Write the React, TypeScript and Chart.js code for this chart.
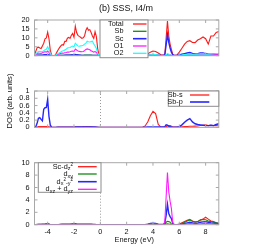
import React, { useEffect, useRef, useState } from "react";
import { Chart, registerables } from "chart.js";
Chart.register(...registerables);

// Energy grid (eV)
const energy = [
  -5.0, -4.9, -4.8, -4.7, -4.6, -4.5, -4.4, -4.3, -4.2, -4.1,
  -4.0, -3.9, -3.8, -3.7, -3.6, -3.5, -3.4, -3.3, -3.2, -3.1,
  -3.0, -2.9, -2.8, -2.7, -2.6, -2.5, -2.4, -2.3, -2.2, -2.1,
  -2.0, -1.9, -1.8, -1.7, -1.6, -1.5, -1.4, -1.3, -1.2, -1.1,
  -1.0, -0.9, -0.8, -0.7, -0.6, -0.5, -0.4, -0.3, -0.2, -0.1,
  0, 1, 2, 3,
  3.2, 3.4, 3.6, 3.8, 4.0, 4.2, 4.4, 4.6, 4.8,
  4.9, 5.0, 5.1, 5.2, 5.3, 5.4, 5.5, 5.6,
  5.8, 6.0, 6.2, 6.4, 6.6, 6.8, 7.0, 7.2, 7.4, 7.6, 7.8, 8.0, 8.2, 8.4, 8.6, 8.8, 9.0,
];

// Panel 1: total and partial DOS
const totalDos = [
  0.5, 2.5, 4.5, 4.8, 4.3, 4.0, 5.5, 7.0, 9.5, 10.0,
  13.2, 9.5, 3.0, 0.4, 0, 0, 0.5, 2.0, 3.3, 4.5,
  5.5, 6.2, 6.0, 8.1, 8.0, 9.8, 10.3, 9.7, 11.5, 12.5,
  10.3, 16.5, 13.0, 11.4, 10.8, 10.3, 9.7, 10.0, 11.0, 14.1,
  15.7, 14.2, 14.6, 13.0, 11.0, 9.7, 13.5, 10.7, 4.0, 0.2,
  0, 0, 0, 0,
  0, 0.3, 1.0, 2.0, 2.6, 2.4, 1.5, 0.5, 0.3,
  0.8, 10, 19.4, 11, 6.5, 3.5, 0.8, 0.2,
  0.2, 2.0, 4.2, 6.5, 8.0, 8.4, 7.4, 7.3, 8.8, 9.5, 10.5, 9.5, 6.5, 11.0, 11.0, 13.0, 13.6,
];
const sbDos = [
  0, 0.1, 0.2, 0.2, 0.2, 0.2, 0.2, 0.3, 0.3, 0.3,
  0.4, 0.3, 0.1, 0, 0, 0, 0, 0.1, 0.1, 0.2,
  0.2, 0.2, 0.2, 0.2, 0.3, 0.3, 0.3, 0.3, 0.3, 0.3,
  0.3, 0.4, 0.3, 0.3, 0.3, 0.2, 0.2, 0.2, 0.3, 0.3,
  0.3, 0.3, 0.3, 0.3, 0.2, 0.2, 0.2, 0.2, 0.1, 0,
  0, 0, 0, 0,
  0, 0.05, 0.1, 0.2, 0.3, 0.3, 0.2, 0.05, 0.05,
  0.1, 0.3, 0.5, 0.3, 0.2, 0.1, 0.05, 0,
  0, 0.05, 0.1, 0.15, 0.2, 0.2, 0.2, 0.2, 0.2, 0.25, 0.25, 0.3, 0.25, 0.25, 0.3, 0.3, 0.3,
];
const scDos = [
  0, 0.1, 0.3, 0.3, 0.3, 0.3, 0.3, 0.4, 0.5, 0.5,
  0.6, 0.4, 0.1, 0, 0, 0, 0, 0.1, 0.1, 0.2,
  0.2, 0.2, 0.2, 0.3, 0.3, 0.3, 0.3, 0.3, 0.4, 0.4,
  0.4, 0.7, 0.5, 0.4, 0.3, 0.3, 0.2, 0.2, 0.2, 0.2,
  0.2, 0.2, 0.2, 0.2, 0.2, 0.2, 0.2, 0.2, 0.1, 0,
  0, 0, 0, 0,
  0, 0.05, 0.15, 0.3, 0.35, 0.3, 0.2, 0.1, 0.1,
  0.5, 6.0, 11.9, 7.5, 4.3, 2.0, 0.5, 0.1,
  0.1, 0.4, 0.8, 1.2, 1.5, 1.8, 1.3, 1.0, 1.1, 1.5, 1.6, 1.2, 0.9, 0.9, 1.0, 1.1, 1.1,
];
const o1Dos = [
  0, 0.5, 1.2, 1.5, 1.4, 1.3, 1.6, 2.0, 2.2, 2.0,
  2.6, 1.8, 0.6, 0.1, 0, 0, 0.1, 0.5, 0.8, 1.1,
  1.3, 1.5, 1.4, 1.6, 1.8, 2.1, 2.0, 2.2, 2.5, 2.6,
  2.4, 3.7, 3.2, 2.6, 2.4, 2.3, 2.2, 2.4, 2.8, 3.5,
  3.8, 3.6, 3.3, 2.8, 2.4, 2.0, 2.3, 1.8, 0.8, 0.1,
  0, 0, 0, 0,
  0, 0.05, 0.2, 0.4, 0.5, 0.5, 0.3, 0.1, 0.05,
  0.1, 0.3, 0.8, 0.5, 0.3, 0.2, 0.1, 0.05,
  0.05, 0.1, 0.2, 0.4, 0.5, 0.5, 0.4, 0.4, 0.45, 0.5, 0.5, 0.45, 0.4, 0.5, 0.5, 0.55, 0.6,
];
const o2Dos = [
  0, 0.8, 1.8, 2.3, 2.5, 2.2, 2.3, 2.8, 3.4, 3.6,
  5.0, 3.5, 1.2, 0.2, 0, 0, 0.2, 0.8, 1.3, 1.7,
  2.1, 2.6, 2.8, 3.2, 3.6, 4.3, 4.5, 4.6, 5.0, 5.4,
  5.0, 7.0, 6.2, 5.4, 5.3, 5.5, 5.6, 5.9, 6.5, 7.0,
  8.1, 7.8, 7.7, 7.9, 8.1, 6.5, 5.4, 4.0, 1.5, 0.1,
  0, 0, 0, 0,
  0, 0.05, 0.2, 0.5, 0.6, 0.6, 0.4, 0.1, 0.05,
  0.1, 0.5, 1.2, 0.8, 0.4, 0.2, 0.1, 0.05,
  0.05, 0.2, 0.4, 0.6, 0.8, 0.9, 0.8, 0.8, 0.9, 1.0, 1.0, 0.9, 0.8, 1.0, 1.1, 1.2, 1.2,
];

// Panel 2: Sb s / p
const sbSDos = [
  0, 0.005, 0.01, 0.02, 0.02, 0.02, 0.02, 0.02, 0.02, 0.02,
  0.02, 0.015, 0.01, 0, 0, 0, 0, 0.005, 0.01, 0.01,
  0.01, 0.01, 0.01, 0.01, 0.01, 0.01, 0.01, 0.01, 0.01, 0.01,
  0.01, 0.015, 0.015, 0.015, 0.015, 0.015, 0.015, 0.02, 0.02, 0.025,
  0.025, 0.02, 0.02, 0.015, 0.015, 0.01, 0.01, 0.01, 0.005, 0,
  0, 0, 0, 0,
  0.005, 0.04, 0.15, 0.32, 0.44, 0.38, 0.08, 0.01, 0.01,
  0.01, 0.02, 0.04, 0.05, 0.05, 0.03, 0.01, 0.01,
  0.01, 0.01, 0.015, 0.02, 0.025, 0.03, 0.03, 0.035, 0.04, 0.05, 0.06, 0.07, 0.05, 0.06, 0.05, 0.05, 0.04,
];
const sbPDos = [
  0, 0.02, 0.12, 0.25, 0.27, 0.22, 0.18, 0.5, 0.54, 0.55,
  0.77, 0.3, 0.06, 0.005, 0, 0, 0, 0.005, 0.005, 0.005,
  0.005, 0.005, 0.005, 0.005, 0.005, 0.005, 0.005, 0.005, 0.005, 0.005,
  0.005, 0.01, 0.01, 0.01, 0.01, 0.01, 0.01, 0.01, 0.01, 0.015,
  0.015, 0.015, 0.01, 0.01, 0.01, 0.01, 0.01, 0.005, 0.005, 0,
  0, 0, 0, 0,
  0, 0.005, 0.01, 0.01, 0.01, 0.01, 0.01, 0.01, 0.01,
  0.02, 0.07, 0.06, 0.03, 0.02, 0.01, 0.005, 0.005,
  0.005, 0.02, 0.07, 0.14, 0.2, 0.24, 0.15, 0.1, 0.08, 0.07, 0.06, 0.05, 0.05, 0.06, 0.05, 0.08, 0.1,
];

// Panel 3: Sc d orbitals
const scDz2 = [
  0, 0.02, 0.05, 0.05, 0.05, 0.05, 0.05, 0.08, 0.1, 0.15,
  0.2, 0.1, 0.03, 0, 0, 0, 0, 0.02, 0.03, 0.05,
  0.05, 0.05, 0.05, 0.05, 0.06, 0.06, 0.07, 0.08, 0.1, 0.12,
  0.2, 0.15, 0.1, 0.08, 0.06, 0.05, 0.05, 0.05, 0.05, 0.05,
  0.05, 0.05, 0.05, 0.05, 0.05, 0.04, 0.04, 0.03, 0.02, 0,
  0, 0, 0, 0,
  0, 0, 0.02, 0.04, 0.05, 0.04, 0.02, 0.01, 0.01,
  0.02, 0.1, 0.15, 0.1, 0.05, 0.03, 0.01, 0,
  0, 0.1, 0.3, 0.5, 0.7, 0.85, 0.6, 0.4, 0.5, 0.7, 0.9, 1.2, 0.9, 0.6, 0.5, 0.3, 0.2,
];
const scDxy = [
  0, 0.02, 0.04, 0.04, 0.04, 0.04, 0.05, 0.06, 0.08, 0.1,
  0.12, 0.08, 0.02, 0, 0, 0, 0, 0.02, 0.03, 0.04,
  0.04, 0.05, 0.05, 0.05, 0.05, 0.06, 0.06, 0.07, 0.08, 0.1,
  0.12, 0.12, 0.08, 0.06, 0.05, 0.05, 0.05, 0.05, 0.05, 0.05,
  0.05, 0.05, 0.05, 0.05, 0.04, 0.04, 0.03, 0.03, 0.02, 0,
  0, 0, 0, 0,
  0, 0, 0.01, 0.02, 0.03, 0.02, 0.01, 0.01, 0.01,
  0.05, 0.4, 0.55, 0.5, 0.4, 0.1, 0.02, 0,
  0, 0.05, 0.2, 0.4, 0.6, 0.75, 0.55, 0.45, 0.5, 0.8, 0.85, 0.8, 0.6, 0.5, 0.4, 0.3, 0.2,
];
const scDx2y2 = [
  0, 0.01, 0.02, 0.03, 0.03, 0.03, 0.03, 0.04, 0.05, 0.06,
  0.08, 0.05, 0.01, 0, 0, 0, 0, 0.01, 0.02, 0.02,
  0.03, 0.03, 0.03, 0.03, 0.04, 0.04, 0.04, 0.05, 0.06, 0.07,
  0.08, 0.1, 0.06, 0.05, 0.04, 0.04, 0.04, 0.04, 0.04, 0.04,
  0.04, 0.04, 0.04, 0.04, 0.03, 0.03, 0.03, 0.02, 0.01, 0,
  0, 0, 0, 0,
  0, 0.02, 0.1, 0.2, 0.25, 0.2, 0.1, 0.03, 0.03,
  0.3, 1.5, 3.3, 1.8, 1.3, 1.0, 0.2, 0.02,
  0.01, 0.05, 0.1, 0.2, 0.3, 0.4, 0.3, 0.2, 0.25, 0.4, 0.45, 0.5, 0.4, 0.3, 0.25, 0.2, 0.2,
];
const scDxzDyz = [
  0, 0.01, 0.02, 0.02, 0.02, 0.02, 0.02, 0.03, 0.04, 0.05,
  0.06, 0.04, 0.01, 0, 0, 0, 0, 0.01, 0.01, 0.02,
  0.02, 0.02, 0.02, 0.02, 0.03, 0.03, 0.03, 0.04, 0.05, 0.05,
  0.06, 0.08, 0.05, 0.04, 0.03, 0.03, 0.03, 0.03, 0.03, 0.03,
  0.03, 0.03, 0.03, 0.03, 0.03, 0.02, 0.02, 0.02, 0.01, 0,
  0, 0, 0, 0,
  0, 0.02, 0.05, 0.1, 0.15, 0.12, 0.05, 0.02, 0.02,
  0.5, 4.5, 8.4, 5.3, 3.8, 2.6, 0.4, 0.05,
  0.02, 0.05, 0.08, 0.1, 0.15, 0.2, 0.15, 0.1, 0.12, 0.15, 0.2, 0.25, 0.2, 0.15, 0.12, 0.1, 0.08,
];

const xTicks = [-4, -2, 0, 2, 4, 6, 8];
const yTicks1 = [0, 5, 10, 15, 20];
const yTicks2 = [0, 0.2, 0.4, 0.6, 0.8, 1];
const yTicks3 = [0, 2, 4, 6, 8, 10];

const RED = "#ff1a1a";
const GREEN = "#138a13";
const BLUE = "#2626ff";
const MAGENTA = "#ff1aff";
const CYAN = "#1affff";

const FONT = "'Liberation Sans', Arial, sans-serif";
const TXT = "#111111";
const FRAME = "#a8a8a8";
const W = 267;
const H = 250;
const X_LEFT = 34.5;
const X_RIGHT = 218.8;
const X_AXIS_H = 25.3;

type Seg = { t: string; size?: number; dy?: number };
type Series = { data: number[]; color: string; width: number; label: Seg[] };
type Legend = {
  box: [number, number, number, number];
  textRight: number;
  lineX: [number, number];
  rows: number[];
};
type PanelSpec = {
  canvasTop: number;
  canvasHeight: number;
  top: number;
  bottom: number;
  yTicks: number[];
  series: Series[];
  legend: Legend;
  showX: boolean;
  extra?: (ctx: CanvasRenderingContext2D) => void;
};

function drawRich(ctx: CanvasRenderingContext2D, segs: Seg[], right: number, y: number, base: number) {
  let total = 0;
  const widths: number[] = [];
  for (const s of segs) {
    ctx.font = `${s.size ?? base}px ${FONT}`;
    const w = ctx.measureText(s.t).width;
    widths.push(w);
    total += w;
  }
  let x = right - total;
  ctx.textAlign = "left";
  ctx.textBaseline = "middle";
  segs.forEach((s, i) => {
    ctx.font = `${s.size ?? base}px ${FONT}`;
    ctx.fillText(s.t, x, y + (s.dy ?? 0));
    x += widths[i];
  });
}

const panels: PanelSpec[] = [
  {
    canvasTop: 0,
    canvasHeight: 86,
    top: 20,
    bottom: 81,
    yTicks: yTicks1,
    showX: false,
    series: [
      { data: totalDos, color: RED, width: 1.1, label: [{ t: "Total" }] },
      { data: sbDos, color: GREEN, width: 1.1, label: [{ t: "Sb" }] },
      { data: scDos, color: BLUE, width: 1.4, label: [{ t: "Sc" }] },
      { data: o1Dos, color: MAGENTA, width: 1.1, label: [{ t: "O1" }] },
      { data: o2Dos, color: CYAN, width: 1.1, label: [{ t: "O2" }] },
    ],
    legend: {
      box: [100, 20, 148, 57.7],
      textRight: 123.5,
      lineX: [133, 146.5],
      rows: [24, 31.3, 38.7, 46, 53.3],
    },
    extra: (ctx) => {
      ctx.fillStyle = TXT;
      ctx.font = `9px ${FONT}`;
      ctx.textAlign = "center";
      ctx.textBaseline = "middle";
      ctx.fillText("(b) SSS, I4/m", 126, 9);
    },
  },
  {
    canvasTop: 86,
    canvasHeight: 72,
    top: 91,
    bottom: 152.7,
    yTicks: yTicks2,
    showX: false,
    series: [
      { data: sbSDos, color: RED, width: 1.1, label: [{ t: "Sb-s" }] },
      { data: sbPDos, color: BLUE, width: 1.4, label: [{ t: "Sb-p" }] },
    ],
    legend: {
      box: [168.3, 91, X_RIGHT, 106.3],
      textRight: 182.7,
      lineX: [190, 209.3],
      rows: [95, 102],
    },
  },
  {
    canvasTop: 158,
    canvasHeight: 92,
    top: 162.7,
    bottom: 224.7,
    yTicks: yTicks3,
    showX: true,
    series: [
      { data: scDz2, color: RED, width: 1.1, label: [{ t: "Sc-d" }, { t: "z", size: 5.5, dy: 2 }, { t: "2", size: 4.5, dy: -1.5 }] },
      { data: scDxy, color: GREEN, width: 1.1, label: [{ t: "d" }, { t: "xy", size: 5.5, dy: 2 }] },
      {
        data: scDx2y2,
        color: BLUE,
        width: 1.4,
        label: [
          { t: "d" },
          { t: "x", size: 5.5, dy: 2 },
          { t: "2", size: 4.5, dy: -1.5 },
          { t: "-y", size: 5.5, dy: 2 },
          { t: "2", size: 4.5, dy: -1.5 },
        ],
      },
      {
        data: scDxzDyz,
        color: MAGENTA,
        width: 1.1,
        label: [{ t: "d" }, { t: "xz", size: 5.5, dy: 2 }, { t: " + d" }, { t: "yz", size: 5.5, dy: 2 }],
      },
    ],
    legend: {
      box: [38.3, 162.7, 101, 192.3],
      textRight: 73,
      lineX: [78, 96.7],
      rows: [166.7, 174, 181.7, 189.3],
    },
    extra: (ctx) => {
      ctx.fillStyle = TXT;
      ctx.font = `7.4px ${FONT}`;
      ctx.textAlign = "center";
      ctx.textBaseline = "middle";
      ctx.fillText("Energy (eV)", 134.3, 240.3);
    },
  },
];

function makePlugin(spec: PanelSpec) {
  return {
    id: "gnuplotLook",
    beforeDatasetsDraw(chart: any) {
      const { ctx, chartArea: a, scales } = chart;
      const px = scales.x.getPixelForValue(0);
      ctx.save();
      ctx.strokeStyle = "#9a9a9a";
      ctx.lineWidth = 1;
      ctx.setLineDash([1, 2]);
      ctx.beginPath();
      ctx.moveTo(Math.round(px) + 0.5, a.top);
      ctx.lineTo(Math.round(px) + 0.5, a.bottom);
      ctx.stroke();
      ctx.restore();
    },
    afterDraw(chart: any) {
      const { ctx, chartArea: a, scales } = chart;
      ctx.save();
      ctx.strokeStyle = FRAME;
      ctx.lineWidth = 1;
      ctx.strokeRect(a.left, a.top, a.right - a.left, a.bottom - a.top);
      ctx.beginPath();
      for (const v of spec.yTicks) {
        const y = scales.y.getPixelForValue(v);
        ctx.moveTo(a.left, y);
        ctx.lineTo(a.left + 3, y);
        ctx.moveTo(a.right, y);
        ctx.lineTo(a.right - 3, y);
      }
      for (const v of xTicks) {
        const x = scales.x.getPixelForValue(v);
        ctx.moveTo(x, a.bottom);
        ctx.lineTo(x, a.bottom - 3);
        ctx.moveTo(x, a.top);
        ctx.lineTo(x, a.top + 3);
      }
      ctx.stroke();
      ctx.restore();

      ctx.save();
      ctx.translate(0, -spec.canvasTop);
      const lg = spec.legend;
      const [bx1, by1, bx2, by2] = lg.box;
      ctx.fillStyle = "#ffffff";
      ctx.fillRect(bx1, by1, bx2 - bx1, by2 - by1);
      ctx.strokeStyle = "#8c8c8c";
      ctx.lineWidth = 1;
      ctx.strokeRect(bx1, by1, bx2 - bx1, by2 - by1);
      spec.series.forEach((s, i) => {
        const y = lg.rows[i];
        ctx.fillStyle = TXT;
        drawRich(ctx, s.label, lg.textRight, y, 7.3);
        ctx.strokeStyle = s.color;
        ctx.lineWidth = s.width + 0.2;
        ctx.beginPath();
        ctx.moveTo(lg.lineX[0], y);
        ctx.lineTo(lg.lineX[1], y);
        ctx.stroke();
      });
      if (spec.extra) spec.extra(ctx);
      ctx.restore();
    },
  };
}

type TickLabel = { text: string; x: number; y: number };

function Panel({ spec }: { spec: PanelSpec }) {
  const ref = useRef<HTMLCanvasElement | null>(null);
  const [tickLabels, setTickLabels] = useState<TickLabel[]>([]);
  useEffect(() => {
    if (!ref.current) return;
    const yMax = spec.yTicks[spec.yTicks.length - 1];
    const chart = new Chart(ref.current, {
      type: "line",
      data: {
        datasets: spec.series.map((s, i) => ({
          data: energy.map((e, k) => ({ x: e, y: s.data[k] })),
          borderColor: s.color,
          borderWidth: s.width,
          pointRadius: 0,
          tension: 0,
          fill: false,
          order: -i,
        })),
      },
      options: {
        responsive: false,
        animation: false,
        layout: {
          padding: {
            top: spec.top - spec.canvasTop,
            left: X_LEFT,
            right: W - X_RIGHT,
            bottom: spec.canvasTop + spec.canvasHeight - spec.bottom - (spec.showX ? X_AXIS_H : 0),
          },
        },
        plugins: { legend: { display: false }, tooltip: { enabled: false }, title: { display: false } },
        scales: {
          x: {
            type: "linear",
            min: -5,
            max: 9,
            display: spec.showX,
            grid: { display: false, drawTicks: false },
            border: { display: false },
            afterFit: (s: any) => {
              s.height = X_AXIS_H;
            },
            afterBuildTicks: (s: any) => {
              s.ticks = xTicks.map((v) => ({ value: v }));
            },
            ticks: {
              color: TXT,
              font: { family: FONT, size: 7.3 },
              padding: 2.5,
              maxRotation: 0,
              autoSkip: false,
            },
          },
          y: {
            type: "linear",
            min: 0,
            max: yMax,
            display: false,
          },
        },
      },
      plugins: [makePlugin(spec)],
    } as any);
    const ys = chart.scales.y;
    const left = chart.chartArea.left;
    setTickLabels(
      spec.yTicks.map((v) => ({
        text: String(v),
        x: left - 5,
        y: ys.getPixelForValue(v) + spec.canvasTop,
      }))
    );
    return () => chart.destroy();
  }, [spec]);
  return (
    <>
      <canvas
        ref={ref}
        width={W}
        height={spec.canvasHeight}
        style={{ position: "absolute", left: 0, top: spec.canvasTop }}
      />
      {tickLabels.map((t, i) => (
        <div
          key={i}
          style={{
            position: "absolute",
            right: W - t.x,
            top: t.y,
            transform: "translateY(-50%)",
            font: `7.3px ${FONT}`,
            lineHeight: 1,
            color: TXT,
            whiteSpace: "nowrap",
          }}
        >
          {t.text}
        </div>
      ))}
    </>
  );
}

export default function App() {
  return (
    <div style={{ position: "fixed", left: 0, top: 0, width: W, height: H, background: "#ffffff" }}>
      {panels.map((p, i) => (
        <Panel key={i} spec={p} />
      ))}
      <div
        style={{
          position: "absolute",
          left: 10,
          top: 100.5,
          transform: "translate(-50%, -50%) rotate(-90deg)",
          font: `7.6px ${FONT}`,
          lineHeight: 1,
          color: TXT,
          whiteSpace: "nowrap",
        }}
      >
        DOS (arb. units)
      </div>
    </div>
  );
}
